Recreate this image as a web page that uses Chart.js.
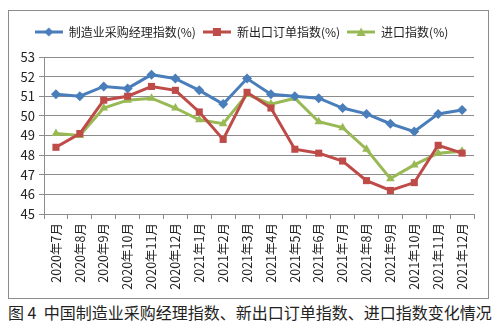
<!DOCTYPE html>
<html>
<head>
<meta charset="utf-8">
<script src="https://cdn.jsdelivr.net/npm/chart.js@4"></script>
<style>
  body { margin: 0; background: #fff; width: 500px; height: 325px; position: relative; overflow: hidden; }
  #frame { position: absolute; left: 8px; top: 10px; width: 479px; height: 287px; border: 1px solid #8c8c8c; }
  #caption { position: absolute; left: 8px; top: 302px; font-family: "Noto Sans CJK SC", sans-serif; font-size: 16px; color: #222; white-space: nowrap; line-height: 20px; }
</style>
</head>
<body>
<div id="frame"><canvas id="myChart" width="479" height="287"></canvas></div>
<div id="caption">图 4&nbsp;&nbsp;中国制造业采购经理指数、新出口订单指数、进口指数变化情况</div>
<script>
// months on the x axis
var months = ["2020年7月", "2020年8月", "2020年9月", "2020年10月", "2020年11月", "2020年12月",
  "2021年1月", "2021年2月", "2021年3月", "2021年4月", "2021年5月", "2021年6月",
  "2021年7月", "2021年8月", "2021年9月", "2021年10月", "2021年11月", "2021年12月"];

// series values (%)
var pmi = [51.1, 51.0, 51.5, 51.4, 52.1, 51.9, 51.3, 50.6, 51.9, 51.1, 51.0, 50.9, 50.4, 50.1, 49.6, 49.2, 50.1, 50.3];
var newExport = [48.4, 49.1, 50.8, 51.0, 51.5, 51.3, 50.2, 48.8, 51.2, 50.4, 48.3, 48.1, 47.7, 46.7, 46.2, 46.6, 48.5, 48.1];
var imports = [49.1, 49.0, 50.4, 50.8, 50.9, 50.4, 49.8, 49.6, 51.1, 50.6, 50.9, 49.7, 49.4, 48.3, 46.8, 47.5, 48.1, 48.2];

var seriesNames = ["制造业采购经理指数(%)", "新出口订单指数(%)", "进口指数(%)"];
var colors = ["#4a7ebb", "#be4b48", "#98b954"];
var markers = ["rectRot", "rect", "triangle"];

var font = '"Noto Sans CJK SC", "DejaVu Sans", sans-serif';

// small legend icons: a line with the marker in the middle
function legendIcon(color, style) {
  var c = document.createElement("canvas");
  c.width = 28; c.height = 12;
  var g = c.getContext("2d");
  g.strokeStyle = color; g.fillStyle = color; g.lineWidth = 3;
  g.beginPath(); g.moveTo(0, 6); g.lineTo(28, 6); g.stroke();
  g.beginPath();
  if (style == "rectRot") { g.moveTo(14, 1.5); g.lineTo(18.5, 6); g.lineTo(14, 10.5); g.lineTo(9.5, 6); }
  else if (style == "rect") { g.rect(10, 2, 8, 8); }
  else { g.moveTo(14, 1.5); g.lineTo(18.5, 10); g.lineTo(9.5, 10); }
  g.closePath(); g.fill();
  return c;
}

var datasets = [pmi, newExport, imports].map(function(vals, i) {
  return {
    label: seriesNames[i],
    data: vals,
    borderColor: colors[i],
    backgroundColor: colors[i],
    borderWidth: 3,
    pointStyle: markers[i],
    pointRadius: 5,
    pointBorderWidth: 0,
    tension: 0
  };
});

var legendHeight = {
  id: "legendHeight",
  beforeInit: function(chart) {
    var fit = chart.legend.fit;
    chart.legend.fit = function() {
      fit.bind(chart.legend)();
      this.height = 38;
    };
  }
};

var ctx = document.getElementById("myChart").getContext("2d");
var chart = new Chart(ctx, {
  type: "line",
  data: { labels: months, datasets: datasets },
  plugins: [legendHeight],
  options: {
    responsive: false,
    animation: false,
    layout: { padding: { left: 0, right: 14, top: 8, bottom: 0 } },
    plugins: {
      tooltip: { enabled: false },
      legend: {
        position: "top",
        labels: {
          color: "#222",
          font: { family: font, size: 12 },
          usePointStyle: true,
          pointStyleWidth: 28,
          padding: 7,
          generateLabels: function(chart) {
            return chart.data.datasets.map(function(ds, i) {
              return { text: ds.label, pointStyle: legendIcon(colors[i], markers[i]), datasetIndex: i, fontColor: "#222", lineWidth: 0 };
            });
          }
        }
      }
    },
    scales: {
      x: {
        offset: true,
        grid: { offset: true, drawOnChartArea: false, drawTicks: true, tickLength: 5, color: "#8c8c8c" },
        border: { color: "#8c8c8c" },
        ticks: { color: "#222", font: { family: font, size: 12.5 }, minRotation: 90, maxRotation: 90, autoSkip: false, padding: 4 },
        afterFit: function(scale) { scale.height = 84; }
      },
      y: {
        min: 45, max: 53,
        grid: { color: "#8c8c8c", tickLength: 5 },
        border: { color: "#8c8c8c" },
        ticks: { stepSize: 1, color: "#222", font: { family: font, size: 13 }, padding: 4 },
        afterFit: function(scale) { scale.width = 35; }
      }
    }
  }
});
</script>
</body>
</html>
